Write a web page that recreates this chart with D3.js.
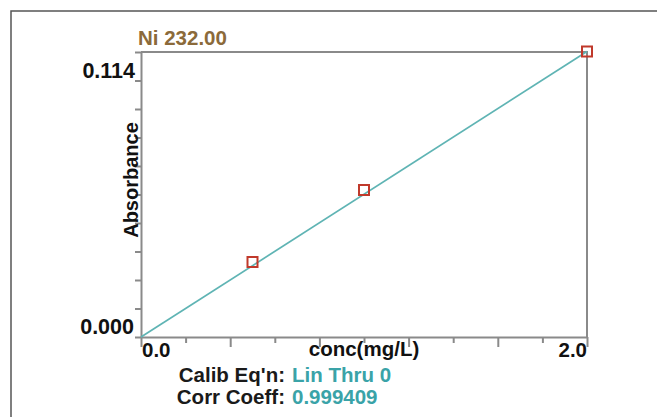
<!DOCTYPE html>
<html>
<head>
<meta charset="utf-8">
<script src="https://cdn.jsdelivr.net/npm/d3@7"></script>
<style>
  body { margin: 0; background: #fff; }
  text { font-family: "Liberation Sans", Arial, sans-serif; font-weight: bold; }
</style>
</head>
<body>
<div class="canvas"></div>
<script>
// standards
const conc = [0.5, 1.0, 2.0];
const absorbance = [0.0300, 0.0588, 0.1142];
// calibration line, linear through zero
const fitConc = [0, 2.0];
const fitAbs = [0, 0.1142];
const xTicks = [0, 0.2, 0.4, 0.6, 0.8, 1.0, 1.2, 1.4, 1.6, 1.8, 2.0];
const yTicks = [0, 0.0114, 0.0228, 0.0342, 0.0456, 0.057, 0.0684, 0.0798, 0.0912, 0.1026, 0.114];
const infoLabels = ["Calib Eq'n:", "Corr Coeff:"];
const infoValues = ["Lin Thru 0", "0.999409"];

const width = 657, height = 417;
const plotL = 141, plotR = 587, plotT = 52, plotB = 337;

const svg = d3.select('.canvas')
    .append('svg')
    .attr('width', width)
    .attr('height', height);

// outer frame
svg.append('path')
    .attr('d', `M11,${height} L11,11 L${width},11`)
    .attr('fill', 'none')
    .attr('stroke', '#555')
    .attr('stroke-width', 1.5);

const xScale = d3.scaleLinear().domain([0, 2.0]).range([plotL, plotR]);
const yScale = d3.scaleLinear().domain([0, 0.114]).range([plotB, plotT]);

// top and right frame of the plot
svg.append('path')
    .attr('d', `M${plotL},${plotT} L${plotR},${plotT} L${plotR},${plotB}`)
    .attr('fill', 'none')
    .attr('stroke', '#8a8a8a')
    .attr('stroke-width', 2);

// x-axis, long and short ticks alternate
const xAxis = svg.append('g')
    .attr('transform', `translate(0, ${plotB})`)
    .call(d3.axisBottom(xScale).tickValues(xTicks).tickFormat('').tickSizeOuter(0));
xAxis.selectAll('.tick line')
    .attr('y2', (d, i) => (i % 2 === 0 ? 10 : 6));
xAxis.selectAll('line, path')
    .attr('stroke', '#8a8a8a')
    .attr('stroke-width', 2);

// y-axis
const yAxis = svg.append('g')
    .attr('transform', `translate(${plotL}, 0)`)
    .call(d3.axisLeft(yScale).tickValues(yTicks).tickFormat('').tickSize(6).tickSizeOuter(0));
yAxis.selectAll('line, path')
    .attr('stroke', '#8a8a8a')
    .attr('stroke-width', 2);

// title
svg.append('text')
    .attr('x', 138)
    .attr('y', 45)
    .attr('fill', '#8b6a3a')
    .style('font-size', '20.5px')
    .text('Ni 232.00');

// y labels at ends only
svg.append('text')
    .attr('x', 135).attr('y', 78)
    .attr('text-anchor', 'end')
    .attr('fill', '#111')
    .style('font-size', '21.5px')
    .text(d3.format('.3f')(yTicks[yTicks.length - 1]));
svg.append('text')
    .attr('x', 134).attr('y', 334)
    .attr('text-anchor', 'end')
    .attr('fill', '#111')
    .style('font-size', '21.5px')
    .text(d3.format('.3f')(yTicks[0]));

// x labels
svg.append('text')
    .attr('x', 142).attr('y', 357)
    .attr('fill', '#111')
    .style('font-size', '20.5px')
    .text(d3.format('.1f')(xTicks[0]));
svg.append('text')
    .attr('x', 587).attr('y', 357)
    .attr('text-anchor', 'end')
    .attr('fill', '#111')
    .style('font-size', '20.5px')
    .text(d3.format('.1f')(xTicks[xTicks.length - 1]));
svg.append('text')
    .attr('x', 364).attr('y', 356)
    .attr('text-anchor', 'middle')
    .attr('fill', '#111')
    .style('font-size', '20.5px')
    .text('conc(mg/L)');

// y axis title
svg.append('text')
    .attr('transform', 'translate(138, 180) rotate(-90)')
    .attr('text-anchor', 'middle')
    .attr('fill', '#111')
    .style('font-size', '20px')
    .text('Absorbance');

// calibration line
const fit = fitConc.map((c, i) => [c, fitAbs[i]]);
svg.append('path')
    .datum(fit)
    .attr('d', d3.line().x(d => xScale(d[0])).y(d => yScale(d[1])))
    .attr('fill', 'none')
    .attr('stroke', '#5fb4b4')
    .attr('stroke-width', 1.7);

// standards
svg.selectAll('rect.std')
    .data(conc)
    .enter()
    .append('rect')
    .attr('class', 'std')
    .attr('x', (d) => xScale(d) - 5)
    .attr('y', (d, i) => yScale(absorbance[i]) - 5)
    .attr('width', 10)
    .attr('height', 10)
    .attr('fill', 'none')
    .attr('stroke', '#c0392b')
    .attr('stroke-width', 2);

// calibration info
infoLabels.forEach((t, i) => {
    svg.append('text')
        .attr('x', 285).attr('y', 382 + i * 22)
        .attr('text-anchor', 'end')
        .attr('fill', '#1a1a1a')
        .style('font-size', '20.5px')
        .text(t);
    svg.append('text')
        .attr('x', 292).attr('y', 382 + i * 22)
        .attr('fill', '#3aa3a8')
        .style('font-size', '20.5px')
        .text(infoValues[i]);
});
</script>
</body>
</html>
